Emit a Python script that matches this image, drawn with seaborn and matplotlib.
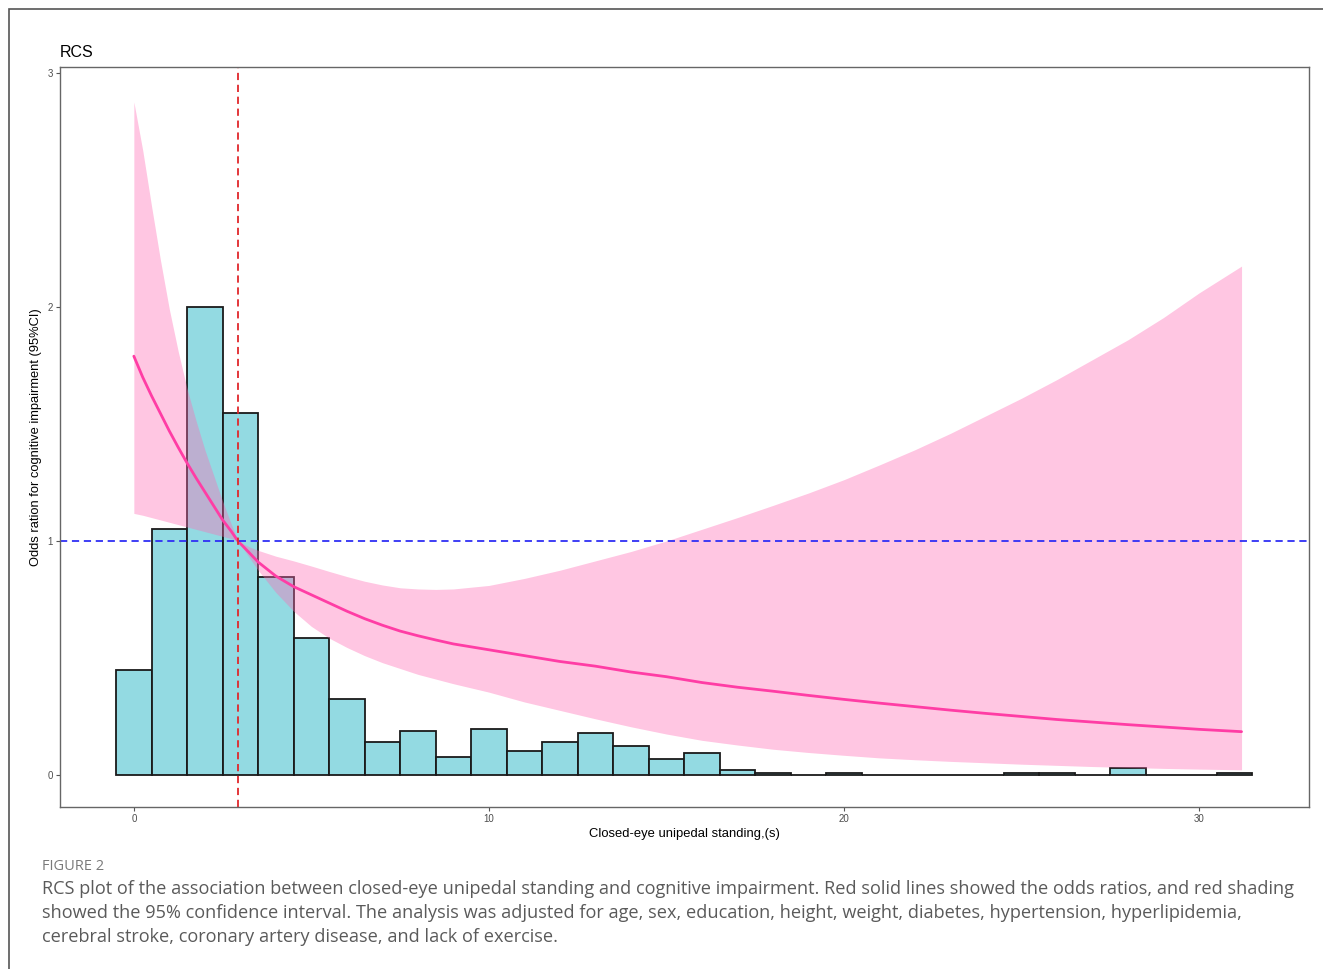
import numpy as np
import pandas as pd
import matplotlib
matplotlib.use("Agg")
import matplotlib.pyplot as plt
import seaborn as sns
from matplotlib.patches import Rectangle

# --- histogram of closed-eye unipedal standing (scaled to OR axis) ---
bin_centers = list(range(0, 32))
bin_heights = [0.449, 1.051, 2.000, 1.547, 0.846, 0.585, 0.325, 0.141,
               0.188, 0.077, 0.197, 0.103, 0.141, 0.179, 0.124, 0.068,
               0.094, 0.021, 0.009, 0.0, 0.009, 0.0, 0.0, 0.0,
               0.0, 0.009, 0.009, 0.0, 0.030, 0.0, 0.0, 0.009]

# --- RCS curve: odds ratio and 95% CI ---
rcs_x = [0, 0.25, 0.5, 0.75, 1.0, 1.25, 1.5, 1.75, 2.0, 2.25, 2.5, 2.75, 2.93,
         3.25, 3.5, 4.0, 4.5, 5, 5.5, 6, 6.5, 7, 7.5, 8, 8.5, 9, 10, 11, 12, 13,
         14, 15, 16, 17, 18, 19, 20, 21, 22, 23, 24, 25, 26, 27, 28, 29, 30, 31.2]
rcs_or = [1.79, 1.70, 1.62, 1.545, 1.47, 1.40, 1.333, 1.27, 1.21, 1.15, 1.09, 1.04, 1.0,
          0.95, 0.91, 0.85, 0.805, 0.77, 0.735, 0.70, 0.668, 0.64, 0.615, 0.595, 0.577,
          0.56, 0.535, 0.51, 0.485, 0.465, 0.44, 0.42, 0.395, 0.375, 0.358, 0.34, 0.323,
          0.307, 0.292, 0.277, 0.263, 0.25, 0.237, 0.226, 0.215, 0.205, 0.195, 0.185]
rcs_upper = [2.877, 2.67, 2.43, 2.20, 1.99, 1.81, 1.65, 1.515, 1.39, 1.28, 1.17, 1.07, 1.0,
             0.975, 0.96, 0.935, 0.915, 0.893, 0.87, 0.848, 0.828, 0.812, 0.80, 0.795, 0.793,
             0.795, 0.81, 0.84, 0.875, 0.915, 0.955, 1.0, 1.05, 1.10, 1.152, 1.205, 1.262,
             1.325, 1.39, 1.46, 1.535, 1.61, 1.69, 1.775, 1.86, 1.955, 2.06, 2.175]
rcs_lower = [1.118, 1.11, 1.10, 1.09, 1.08, 1.07, 1.06, 1.05, 1.04, 1.03, 1.02, 1.01, 1.0,
             0.93, 0.875, 0.78, 0.70, 0.635, 0.585, 0.545, 0.51, 0.48, 0.455, 0.43, 0.41,
             0.39, 0.354, 0.312, 0.276, 0.24, 0.206, 0.175, 0.148, 0.128, 0.11, 0.096, 0.084,
             0.073, 0.065, 0.058, 0.052, 0.046, 0.041, 0.036, 0.032, 0.028, 0.025, 0.022]

ref_x = 2.93
ref_or = 1.0

x_ticks = [0, 10, 20, 30]
y_ticks = [0, 1, 2, 3]

caption_head = "FIGURE 2"
caption_lines = [
    "RCS plot of the association between closed-eye unipedal standing and cognitive impairment. Red solid lines showed the odds ratios, and red shading",
    "showed the 95% confidence interval. The analysis was adjusted for age, sex, education, height, weight, diabetes, hypertension, hyperlipidemia,",
    "cerebral stroke, coronary artery disease, and lack of exercise.",
]

sns.set_style("ticks")
plt.rcParams['font.family'] = ['Liberation Sans', 'DejaVu Sans']

W, H = 1323, 969
fig = plt.figure(figsize=(W / 100, H / 100), dpi=100)
ax = fig.add_axes([60 / W, 1 - 807 / H, (1309 - 60) / W, (807 - 67) / H])

hist_df = pd.DataFrame({"x": bin_centers, "h": bin_heights})
sns.histplot(data=hist_df, x="x", weights="h", binwidth=1, binrange=(-0.5, 31.5),
             color="#93DAE2", edgecolor="#1a1a1a", linewidth=1.3, alpha=1, ax=ax)

ax.fill_between(rcs_x, rcs_lower, rcs_upper, color="#FF69B4", alpha=0.38, linewidth=0)
sns.lineplot(x=rcs_x, y=rcs_or, color="#FF3DA5", linewidth=2.0, ax=ax)

ax.axhline(ref_or, color="#2F2FF5", linestyle=(0, (4, 2.6)), linewidth=1.3)
ax.axvline(ref_x, color="#E0262B", linestyle=(0, (4, 2.6)), linewidth=1.3)

ax.set_xlim(-2.08, 33.1)
ax.set_ylim(-0.137, 3.026)
ax.set_xticks(x_ticks)
ax.set_yticks(y_ticks)
ax.tick_params(axis="both", length=3, width=0.8, color="#555555", labelcolor="#4d4d4d",
               labelsize=7, pad=2)
for sp in ax.spines.values():
    sp.set_color("#666666")
    sp.set_linewidth(1.0)

ax.set_xlabel("Closed-eye unipedal standing,(s)", fontsize=9.4, color="black", labelpad=3)
ax.set_ylabel("Odds ration for cognitive impairment (95%CI)", fontsize=9.3, color="black", labelpad=4)
ax.set_title("RCS", loc="left", fontsize=11.5, color="black", pad=7)

# figure frame and caption
fig.patches.append(Rectangle((9 / W, -0.1), 1.2, 1 - 9 / H + 0.1, transform=fig.transFigure,
                             fill=False, edgecolor="#555555", linewidth=1.2))
fig.text(42 / W, 1 - 866 / H, caption_head, fontsize=10.5, color="#7a7a7a",
         family=["Open Sans", "DejaVu Sans"], va="center", ha="left")
for i, line in enumerate(caption_lines):
    fig.text(42 / W, 1 - (889 + 24 * i) / H, line, fontsize=13.1, color="#5a5a5a",
             family=["Open Sans", "DejaVu Sans"], va="center", ha="left")

fig.savefig("out.png", dpi=100)
